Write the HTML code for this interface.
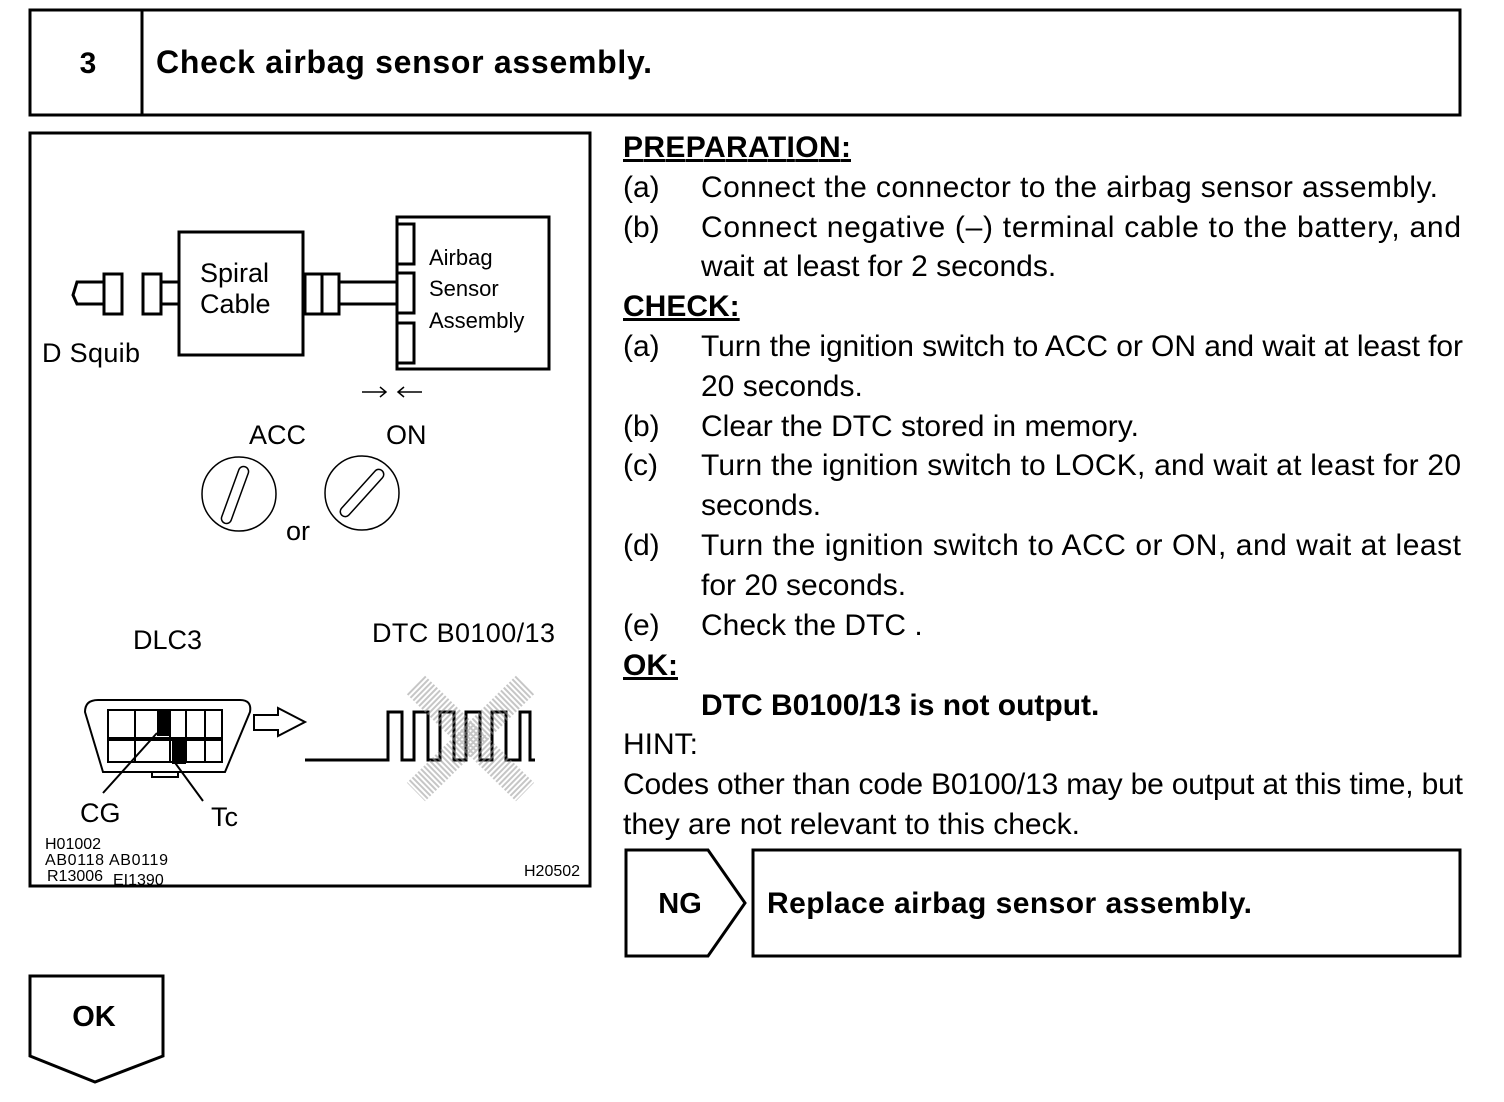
<!DOCTYPE html>
<html><head><style>body{margin:0;background:#fff}svg{display:block}text{font-family:"Liberation Sans",Arial,sans-serif;fill:#000}</style></head><body>
<svg width="1504" height="1102" viewBox="0 0 1504 1102" xmlns="http://www.w3.org/2000/svg">
<g fill="none" stroke="#000" stroke-width="3">
<rect x="30" y="10" width="1430" height="105"/>
<line x1="142" y1="10" x2="142" y2="115"/>
<rect x="30" y="133" width="560" height="753"/>
<polygon points="626,850 708,850 745,903 708,956 626,956"/>
<rect x="753" y="850" width="707" height="106"/>
<polygon points="30,976 163,976 163,1056 95,1082 30,1056"/>
</g>
<text x="88" y="73" font-size="30" font-weight="bold" text-anchor="middle">3</text>
<text x="156" y="73" font-size="32" font-weight="bold" textLength="496">Check airbag sensor assembly.</text>
<text x="680" y="913" font-size="29" font-weight="bold" text-anchor="middle">NG</text>
<text x="767" y="913" font-size="30" font-weight="bold" textLength="485">Replace airbag sensor assembly.</text>
<text x="94" y="1026" font-size="29" font-weight="bold" text-anchor="middle">OK</text>

<g font-size="30">
<text x="623" y="157" font-weight="bold" text-decoration="underline" textLength="228">PREPARATION:</text>
<text x="623" y="197">(a)</text><text x="701" y="197" textLength="737">Connect the connector to the airbag sensor assembly.</text>
<text x="623" y="237">(b)</text><text x="701" y="237" textLength="760">Connect negative (–) terminal cable to the battery, and</text>
<text x="701" y="276">wait at least for 2 seconds.</text>
<text x="623" y="316" font-weight="bold" text-decoration="underline">CHECK:</text>
<text x="623" y="356">(a)</text><text x="701" y="356" textLength="762">Turn the ignition switch to ACC or ON and wait at least for</text>
<text x="701" y="396">20 seconds.</text>
<text x="623" y="436">(b)</text><text x="701" y="436">Clear the DTC stored in memory.</text>
<text x="623" y="475">(c)</text><text x="701" y="475" textLength="760">Turn the ignition switch to LOCK, and wait at least for 20</text>
<text x="701" y="515">seconds.</text>
<text x="623" y="555">(d)</text><text x="701" y="555" textLength="760">Turn the ignition switch to ACC or ON, and wait at least</text>
<text x="701" y="595">for 20 seconds.</text>
<text x="623" y="635">(e)</text><text x="701" y="635">Check the DTC .</text>
<text x="623" y="675" font-weight="bold" text-decoration="underline">OK:</text>
<text x="701" y="715" font-weight="bold">DTC B0100/13 is not output.</text>
<text x="623" y="754">HINT:</text>
<text x="623" y="794" textLength="840">Codes other than code B0100/13 may be output at this time, but</text>
<text x="623" y="834">they are not relevant to this check.</text>
</g>

<!-- diagram -->
<g fill="none" stroke="#000" stroke-width="3">
<rect x="179" y="232" width="124" height="123"/>
<rect x="397" y="217" width="152" height="152"/>
<rect x="397" y="224" width="17" height="40" fill="#fff"/>
<rect x="397" y="273" width="17" height="40" fill="#fff"/>
<rect x="397" y="323" width="17" height="40" fill="#fff"/>
<rect x="104" y="274" width="18" height="40"/>
<rect x="143" y="274" width="18" height="40"/>
<path d="M104,282 H77 L73,295 L77,304 H104"/>
<path d="M161,282 H179 M161,304 H179"/>
<rect x="305" y="274" width="17" height="40"/>
<rect x="322" y="274" width="17" height="40"/>
<path d="M303,282 H305 M303,304 H305 M339,282 H397 M339,304 H397"/>
</g>
<g stroke="#000" stroke-width="1.5" fill="none">
<path d="M362,392 H386 M380,387 L386,392 L380,397"/>
<path d="M398,392 H422 M404,387 L398,392 L404,397"/>
<circle cx="239" cy="494" r="37"/>
<circle cx="362" cy="493" r="37"/>
<rect x="230" y="465" width="10" height="60" rx="5" transform="rotate(20 235 495)"/>
<rect x="357" y="463" width="10" height="60" rx="5" transform="rotate(42 362 493)"/>
</g>
<g font-size="27">
<text x="200" y="282">Spiral</text>
<text x="200" y="313">Cable</text>
<text x="42" y="362" textLength="98">D Squib</text>
<text x="249" y="444">ACC</text>
<text x="386" y="444">ON</text>
<text x="286" y="540">or</text>
<text x="133" y="649">DLC3</text>
<text x="372" y="642" textLength="183">DTC B0100/13</text>
<text x="80" y="822">CG</text>
<text x="211" y="826">Tc</text>
</g>
<g font-size="22">
<text x="429" y="265">Airbag</text>
<text x="429" y="296">Sensor</text>
<text x="429" y="328">Assembly</text>
</g>
<g font-size="16">
<text x="45" y="849">H01002</text>
<text x="45" y="865" textLength="123">AB0118 AB0119</text>
<text x="47" y="881">R13006</text><text x="113" y="885">EI1390</text>
<text x="524" y="876">H20502</text>
</g>
<!-- DLC -->
<g fill="none" stroke="#000" stroke-width="2">
<path d="M98,700 H240 Q252,700 250,712 L225,772 H103 L85,712 Q85,700 98,700 Z"/>
<path d="M108,710 H222 V738 H108 Z M108,740 H222 V762 H108 Z"/>
<path d="M135,710 V762 M170,710 V762 M186,710 V762 M205,710 V762"/>
<path d="M152,771 V777 H178 V771"/>
<path d="M157,733 L103,793 M173,760 L203,801"/>
<path d="M254,715 H278 V708 L305,722 L278,736 V730 H254 Z"/>
<path d="M305,760 H388 V712 H402 V760 H414 V712 H428 V760 H440 V712 H454 V760 H466 V712 H480 V760 H492 V712 H506 V760 H520 V712 H530 V760 H535" stroke-width="3"/>
</g>
<rect x="157" y="711" width="14" height="25" fill="#000"/>
<rect x="172" y="740" width="14" height="24" fill="#000"/>
<g stroke="#999" stroke-width="26" opacity="0.55" stroke-dasharray="2 2">
<path d="M416,685 L525,792 M525,685 L416,792"/>
</g>
</svg>
</body></html>
